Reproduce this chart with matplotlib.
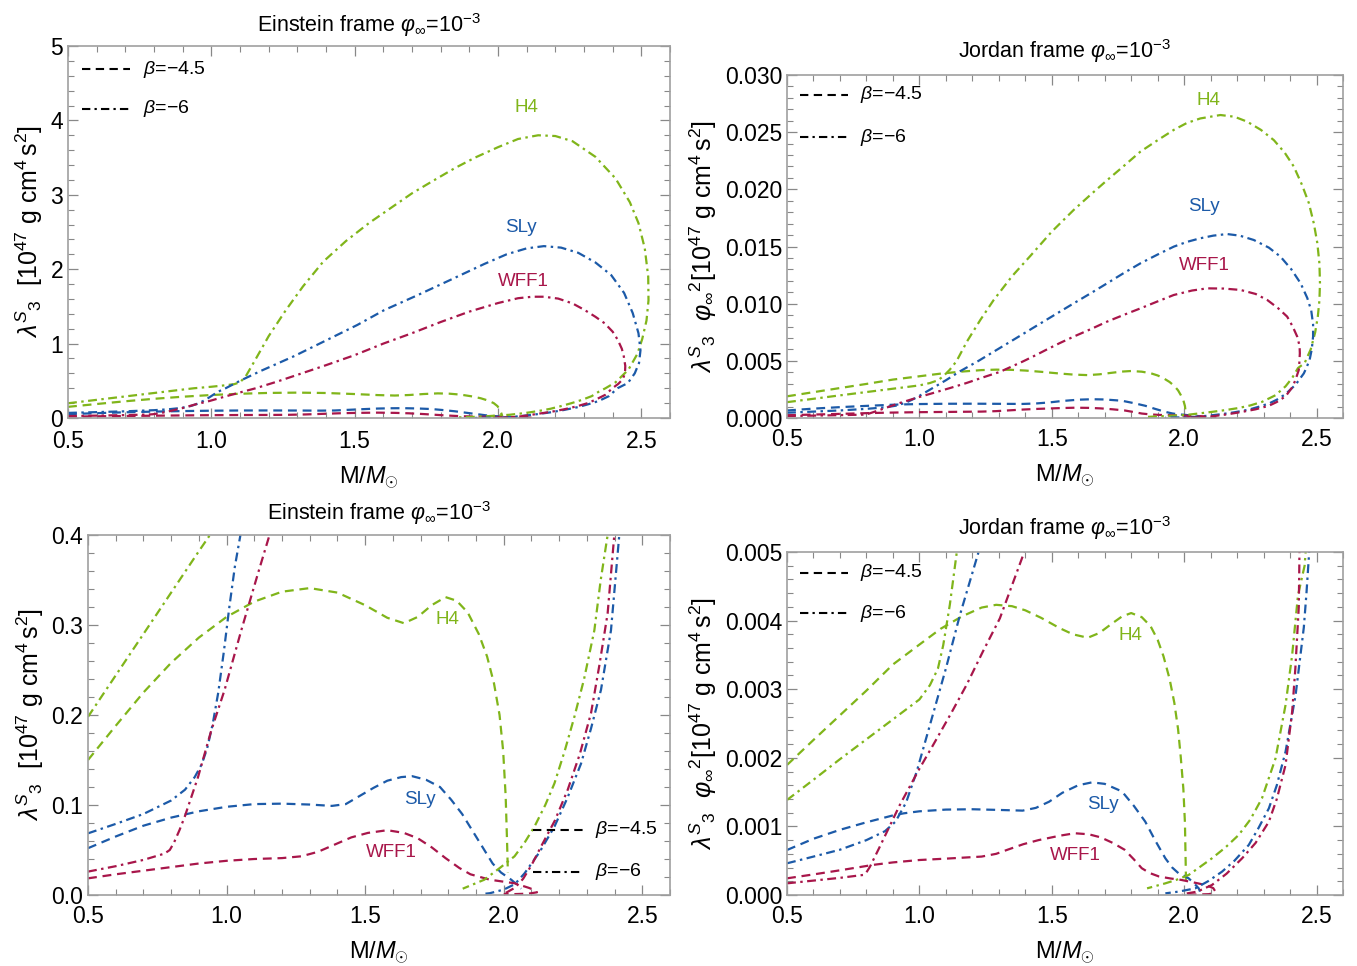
import matplotlib
matplotlib.use("Agg")
import matplotlib.pyplot as plt
from matplotlib.ticker import MultipleLocator, FormatStrFormatter
import numpy as np

plt.rcParams['font.family'] = ['Liberation Sans', 'DejaVu Sans']
plt.rcParams['mathtext.fontset'] = 'custom'
plt.rcParams['mathtext.rm'] = 'Liberation Sans'
plt.rcParams['mathtext.it'] = 'Liberation Sans:italic'
plt.rcParams['mathtext.bf'] = 'Liberation Sans:bold'

# ---------------- Einstein frame data (lambda in 1e47 g cm^4 s^2) ----------------
e_h4_b6_m = [0.5, 0.6, 0.7, 0.8, 0.9, 0.94, 1.0, 1.05, 1.08, 1.10, 1.12, 1.15, 1.2, 1.26, 1.32, 1.39, 1.47,
             1.55, 1.61, 1.70, 1.77, 1.85, 1.92, 2.0, 2.07, 2.14, 2.20, 2.26, 2.34, 2.41, 2.46, 2.49,
             2.512, 2.524, 2.525, 2.518, 2.503, 2.486, 2.455, 2.41, 2.375, 2.35, 2.327, 2.29, 2.255, 2.22,
             2.183, 2.15, 2.111, 2.075, 2.039, 1.99, 1.93, 1.852]
e_h4_b6_l = [0.198, 0.244, 0.290, 0.336, 0.382, 0.40, 0.42, 0.44, 0.455, 0.48, 0.56, 0.76, 1.10, 1.45, 1.77,
             2.10, 2.38, 2.62, 2.78, 3.02, 3.18, 3.36, 3.50, 3.64, 3.75, 3.80, 3.79, 3.72, 3.51, 3.22,
             2.90, 2.62, 2.28, 1.90, 1.58, 1.31, 1.06, 0.86, 0.65, 0.48, 0.40, 0.35, 0.294, 0.24, 0.198,
             0.16, 0.124, 0.10, 0.076, 0.058, 0.043, 0.031, 0.017, 0.007]

e_sly_b6_m = [0.5, 0.6, 0.7, 0.8, 0.85, 0.885, 0.91, 0.93, 0.95, 0.97, 0.99, 1.01, 1.03, 1.05, 1.10, 1.171,
              1.288, 1.404, 1.509, 1.603, 1.719, 1.836, 1.952, 2.03, 2.10, 2.16, 2.22, 2.28, 2.34, 2.395,
              2.44, 2.47, 2.49, 2.497, 2.492, 2.477, 2.453, 2.417, 2.387, 2.351, 2.315, 2.279, 2.23, 2.183,
              2.13, 2.075, 2.04, 2.0, 1.95, 1.92]
e_sly_b6_l = [0.0685, 0.079, 0.090, 0.105, 0.117, 0.131, 0.145, 0.163, 0.19, 0.225, 0.27, 0.32, 0.365, 0.40,
              0.50, 0.63, 0.83, 1.05, 1.25, 1.45, 1.65, 1.86, 2.07, 2.20, 2.28, 2.31, 2.29, 2.22, 2.09,
              1.92, 1.68, 1.41, 1.14, 0.91, 0.74, 0.60, 0.47, 0.40, 0.294, 0.228, 0.185, 0.146, 0.108,
              0.076, 0.048, 0.024, 0.012, 0.006, 0.002, 0.001]

e_wff1_b6_m = [0.5, 0.6, 0.7, 0.776, 0.795, 0.81, 0.83, 0.849, 0.897, 0.945, 0.993, 1.053, 1.113, 1.155,
               1.23, 1.3, 1.4, 1.5, 1.6, 1.7, 1.8, 1.9, 2.0, 2.07, 2.12, 2.16, 2.21, 2.26, 2.302, 2.34,
               2.372, 2.40, 2.418, 2.432, 2.439, 2.444, 2.443, 2.435, 2.42, 2.399, 2.375, 2.345, 2.315,
               2.275, 2.231, 2.185, 2.135, 2.10, 2.07, 2.04, 2.0]
e_wff1_b6_l = [0.026, 0.032, 0.039, 0.046, 0.05, 0.058, 0.072, 0.087, 0.131, 0.183, 0.228, 0.294, 0.357, 0.40,
               0.49, 0.58, 0.71, 0.845, 1.0, 1.14, 1.29, 1.43, 1.545, 1.61, 1.63, 1.63, 1.605, 1.54, 1.452,
               1.36, 1.273, 1.16, 1.049, 0.93, 0.825, 0.70, 0.60, 0.52, 0.46, 0.40, 0.313, 0.255, 0.202,
               0.157, 0.117, 0.083, 0.054, 0.033, 0.018, 0.008, 0.001]

e_h4_b45_m = [0.5, 0.6, 0.7, 0.8, 0.9, 1.0, 1.1, 1.2, 1.3, 1.4, 1.5, 1.58, 1.64, 1.69, 1.74, 1.79, 1.83, 1.87,
              1.91, 1.94, 1.965, 1.985, 1.998, 2.007, 2.012, 2.015]
e_h4_b45_l = [0.15, 0.188, 0.225, 0.258, 0.286, 0.309, 0.326, 0.337, 0.341, 0.336, 0.322, 0.308, 0.302, 0.309,
              0.322, 0.331, 0.327, 0.314, 0.29, 0.265, 0.235, 0.20, 0.16, 0.11, 0.06, 0.025]

e_sly_b45_m = [0.5, 0.6, 0.7, 0.8, 0.9, 1.0, 1.1, 1.2, 1.3, 1.38, 1.43, 1.48, 1.53, 1.58, 1.63, 1.67, 1.72,
               1.77, 1.81, 1.85, 1.89, 1.93, 1.96, 1.99, 2.027, 2.05, 2.063]
e_sly_b45_l = [0.052, 0.065, 0.077, 0.086, 0.093, 0.098, 0.101, 0.1015, 0.1005, 0.099, 0.101, 0.110, 0.119,
               0.127, 0.131, 0.132, 0.128, 0.120, 0.106, 0.09, 0.07, 0.050, 0.035, 0.025, 0.017, 0.011, 0.007]

e_wff1_b45_m = [0.5, 0.6, 0.7, 0.8, 0.9, 1.0, 1.1, 1.2, 1.27, 1.33, 1.39, 1.45, 1.51, 1.58, 1.64, 1.69, 1.74,
                1.79, 1.84, 1.88, 1.95, 2.04, 2.09, 2.115, 2.12, 2.09, 2.04, 2.0]
e_wff1_b45_l = [0.0185, 0.023, 0.027, 0.031, 0.035, 0.038, 0.040, 0.041, 0.043, 0.048, 0.056, 0.064, 0.069,
                0.072, 0.069, 0.063, 0.053, 0.041, 0.030, 0.023, 0.017, 0.013, 0.008, 0.005, 0.003, 0.0015,
                0.001, 0.001]

# ---------------- Jordan frame data (lambda * phi^2, in units of 1e-3) ----------------
J_UNIT = 1e-3
j_h4_b6_m = [0.5, 0.6, 0.7, 0.8, 0.9, 1.0, 1.04, 1.07, 1.09, 1.115, 1.14, 1.18, 1.23, 1.28, 1.35, 1.42, 1.5,
             1.583, 1.65, 1.709, 1.77, 1.835, 1.9, 1.961, 2.01, 2.061, 2.137, 2.19, 2.238, 2.29, 2.339,
             2.38, 2.414, 2.445, 2.471, 2.49, 2.503, 2.511, 2.513, 2.511, 2.505, 2.495, 2.478, 2.455, 2.43,
             2.408, 2.383, 2.345, 2.294, 2.25, 2.206, 2.155, 2.105, 2.06, 2.017, 1.97, 1.929, 1.86]
j_h4_b6_l = [1.385, 1.68, 1.98, 2.27, 2.56, 2.85, 3.06, 3.3, 3.64, 4.23, 4.96, 6.7, 8.57, 10.3, 12.4, 14.2,
             16.3, 18.2, 19.6, 20.8, 22.0, 23.3, 24.3, 25.2, 25.8, 26.2, 26.5, 26.35, 25.92, 25.2, 24.3,
             23.2, 22.0, 20.4, 18.8, 17.0, 15.3, 13.5, 11.8, 10.3, 8.9, 7.5, 6.0, 4.8, 4.37, 3.5, 2.77, 1.99,
             1.41, 1.1, 0.875, 0.69, 0.535, 0.41, 0.292, 0.22, 0.17, 0.097]

j_sly_b6_m = [0.5, 0.6, 0.7, 0.8, 0.87, 0.91, 0.95, 0.99, 1.04, 1.10, 1.153, 1.222, 1.29, 1.356, 1.42, 1.5,
              1.583, 1.65, 1.709, 1.77, 1.835, 1.9, 1.961, 2.01, 2.061, 2.11, 2.162, 2.21, 2.263, 2.32, 2.364,
              2.405, 2.44, 2.465, 2.48, 2.487, 2.487, 2.482, 2.474, 2.462, 2.452, 2.421, 2.383, 2.35, 2.32,
              2.28, 2.244, 2.19, 2.143, 2.09, 2.042, 1.98, 1.929]
j_sly_b6_l = [0.462, 0.56, 0.66, 0.80, 0.93, 1.07, 1.35, 1.80, 2.48, 3.30, 4.08, 4.98, 5.93, 6.85, 7.75, 8.87,
              10.03, 10.95, 11.78, 12.65, 13.53, 14.3, 14.99, 15.4, 15.72, 15.95, 16.09, 15.95, 15.57, 14.9,
              14.11, 13.0, 11.78, 10.5, 9.4, 8.2, 7.12, 6.0, 5.1, 4.4, 3.9, 2.915, 2.089, 1.6, 1.263, 0.97,
              0.729, 0.5, 0.34, 0.2, 0.097, 0.05, 0.024]

j_wff1_b6_m = [0.5, 0.6, 0.7, 0.787, 0.80, 0.813, 0.85, 0.926, 1.0, 1.052, 1.12, 1.178, 1.24, 1.304, 1.392,
               1.44, 1.482, 1.53, 1.583, 1.65, 1.709, 1.77, 1.835, 1.9, 1.961, 2.03, 2.087, 2.15, 2.213, 2.27,
               2.314, 2.355, 2.389, 2.41, 2.427, 2.436, 2.437, 2.435, 2.433, 2.42, 2.408, 2.383, 2.35, 2.32,
               2.27, 2.219, 2.16, 2.105, 2.05, 1.992]
j_wff1_b6_l = [0.17, 0.21, 0.25, 0.292, 0.33, 0.41, 0.7, 1.312, 1.84, 2.187, 2.65, 3.061, 3.55, 4.033, 4.956,
               5.5, 6.0, 6.55, 7.12, 7.8, 8.43, 9.0, 9.59, 10.2, 10.76, 11.15, 11.34, 11.32, 11.2, 10.85,
               10.32, 9.6, 8.87, 8.0, 7.12, 6.3, 5.66, 4.8, 4.2, 3.3, 2.672, 1.895, 1.4, 1.069, 0.76, 0.535,
               0.31, 0.146, 0.05, 0.01]

j_h4_b45_m = [0.5, 0.6, 0.7, 0.8, 0.9, 1.0, 1.08, 1.16, 1.235, 1.29, 1.35, 1.40, 1.46, 1.53, 1.58, 1.636,
              1.68, 1.725, 1.765, 1.80, 1.84, 1.873, 1.90, 1.922, 1.945, 1.963, 1.977, 1.987, 1.997, 2.003,
              2.007]
j_h4_b45_l = [1.895, 2.26, 2.62, 2.98, 3.36, 3.65, 3.88, 4.06, 4.19, 4.23, 4.21, 4.15, 4.04, 3.89, 3.80, 3.75,
              3.82, 3.95, 4.06, 4.11, 4.05, 3.92, 3.72, 3.48, 3.15, 2.80, 2.42, 2.02, 1.55, 1.05, 0.22]

j_sly_b45_m = [0.5, 0.6, 0.7, 0.8, 0.9, 0.94, 1.0, 1.1, 1.2, 1.3, 1.39, 1.44, 1.49, 1.54, 1.6, 1.652, 1.70,
               1.765, 1.81, 1.853, 1.89, 1.929, 1.955, 1.979, 2.0, 2.017, 2.04, 2.055, 2.06]
j_sly_b45_l = [0.656, 0.82, 0.95, 1.06, 1.16, 1.19, 1.22, 1.245, 1.25, 1.24, 1.23, 1.27, 1.36, 1.49, 1.60,
               1.642, 1.62, 1.51, 1.30, 1.07, 0.80, 0.535, 0.40, 0.316, 0.28, 0.243, 0.16, 0.097, 0.05]

j_wff1_b45_m = [0.5, 0.6, 0.7, 0.827, 0.9, 1.0, 1.1, 1.235, 1.29, 1.333, 1.392, 1.45, 1.531, 1.587, 1.64,
                1.685, 1.73, 1.775, 1.81, 1.84, 1.87, 1.905, 1.95, 1.989, 2.052, 2.085, 2.11, 2.118, 2.11,
                2.093, 2.05, 2.0]
j_wff1_b45_l = [0.243, 0.30, 0.36, 0.44, 0.475, 0.51, 0.53, 0.56, 0.60, 0.66, 0.74, 0.80, 0.865, 0.90, 0.885,
                0.84, 0.76, 0.66, 0.52, 0.39, 0.32, 0.27, 0.24, 0.22, 0.17, 0.14, 0.10, 0.05, 0.025, 0.012,
                0.007, 0.005]

eos_names = ["H4", "SLy", "WFF1"]
beta_labels = [r"$\beta$=$-$4.5", r"$\beta$=$-$6"]
colors = {"H4": "#80b51a", "SLy": "#1c5aa8", "WFF1": "#a8164a"}

DASH = (0, (4.0, 2.6))
DASHDOT = (0, (4.0, 2.0, 1.1, 2.0))

einstein = {
    ("H4", "b45"): (e_h4_b45_m, e_h4_b45_l), ("SLy", "b45"): (e_sly_b45_m, e_sly_b45_l),
    ("WFF1", "b45"): (e_wff1_b45_m, e_wff1_b45_l),
    ("H4", "b6"): (e_h4_b6_m, e_h4_b6_l), ("SLy", "b6"): (e_sly_b6_m, e_sly_b6_l),
    ("WFF1", "b6"): (e_wff1_b6_m, e_wff1_b6_l),
}
jordan = {
    ("H4", "b45"): (j_h4_b45_m, j_h4_b45_l), ("SLy", "b45"): (j_sly_b45_m, j_sly_b45_l),
    ("WFF1", "b45"): (j_wff1_b45_m, j_wff1_b45_l),
    ("H4", "b6"): (j_h4_b6_m, j_h4_b6_l), ("SLy", "b6"): (j_sly_b6_m, j_sly_b6_l),
    ("WFF1", "b6"): (j_wff1_b6_m, j_wff1_b6_l),
}

fig = plt.figure(figsize=(13.57, 9.66), dpi=100)

W, H = 1357.0, 966.0
def rect(l, r, t, b):
    return [l / W, 1 - b / H, (r - l) / W, (b - t) / H]

ax_tl = fig.add_axes(rect(68, 670, 46, 418))
ax_tr = fig.add_axes(rect(787, 1343, 75, 418))
ax_bl = fig.add_axes(rect(88, 670, 535, 895))
ax_br = fig.add_axes(rect(787, 1343, 552, 895))

title_e = r"Einstein frame $\varphi_{\infty}$=10$^{-3}$"
title_j = r"Jordan frame $\varphi_{\infty}$=10$^{-3}$"
ylab_e = r"$\lambda^{S}{}_{3}\ \ [10^{47}\ \mathrm{g\ cm^{4}\,s^{2}}]$"
ylab_j = r"$\lambda^{S}{}_{3}\ \ \varphi_{\infty}{}^{2}[10^{47}\ \mathrm{g\ cm^{4}\,s^{2}}]$"
xlab = r"M/$M_{\odot}$"

def draw(ax, data, scale, ylim, ymaj, ymin, yfmt, title, ylab, labels, legend_pos, tpad, xpad):
    for (eos, b), (m, l) in data.items():
        ls = DASH if b == "b45" else DASHDOT
        ax.plot(m, np.asarray(l) * scale, color=colors[eos], lw=1.6, ls=ls,
                solid_capstyle="butt", dash_capstyle="butt")
    ax.set_xlim(0.5, 2.6)
    ax.set_ylim(*ylim)
    ax.xaxis.set_major_locator(MultipleLocator(0.5))
    ax.xaxis.set_minor_locator(MultipleLocator(0.1))
    ax.yaxis.set_major_locator(MultipleLocator(ymaj))
    ax.yaxis.set_minor_locator(MultipleLocator(ymin))
    ax.xaxis.set_major_formatter(FormatStrFormatter("%.1f"))
    ax.yaxis.set_major_formatter(FormatStrFormatter(yfmt))
    ax.tick_params(which="both", direction="in", top=True, right=True, color="#888888",
                   labelsize=16.5)
    ax.tick_params(axis="x", which="major", pad=xpad)
    ax.tick_params(axis="y", which="major", pad=3.5)
    ax.tick_params(which="major", length=7, width=0.9)
    ax.tick_params(which="minor", length=4, width=0.8)
    for s in ax.spines.values():
        s.set_color("#a0a0a0")
        s.set_linewidth(1.2)
    ax.set_title(title, fontsize=15.5, pad=tpad)
    ax.set_ylabel(ylab, fontsize=18, labelpad=4)
    ax.set_xlabel(xlab, fontsize=17, labelpad=8)
    for eos, (x, y) in labels.items():
        ax.text(x, y, eos, color=colors[eos], fontsize=13.5, ha="center", va="center")
    (x0, x1, xt, y0, y1) = legend_pos
    for yy, ls, lab in ((y0, DASH, beta_labels[0]), (y1, DASHDOT, beta_labels[1])):
        ax.plot([x0, x1], [yy, yy], transform=ax.transAxes, color="black", lw=1.5, ls=ls)
        ax.text(xt, yy, lab, transform=ax.transAxes, fontsize=14, va="center", ha="left")

draw(ax_tl, einstein, 1.0, (0, 5), 1, 0.2, "%d", title_e, ylab_e,
     {"H4": (2.098, 4.18), "SLy": (2.08, 2.56), "WFF1": (2.087, 1.83)},
     (0.023, 0.103, 0.124, 0.938, 0.831), 10, 8.5)
draw(ax_tr, jordan, J_UNIT, (0, 0.030), 0.005, 0.001, "%.3f", title_j, ylab_j,
     {"H4": (2.092, 0.0278), "SLy": (2.073, 0.01846), "WFF1": (2.077, 0.01338)},
     (0.023, 0.11, 0.131, 0.942, 0.819), 12, 7)
draw(ax_bl, einstein, 1.0, (0, 0.4), 0.1, 0.02, "%.1f", title_e, ylab_e,
     {"H4": (1.797, 0.3056), "SLy": (1.696, 0.1056), "WFF1": (1.595, 0.0467)},
     (0.765, 0.851, 0.871, 0.181, 0.064), 11, 7)
draw(ax_br, jordan, J_UNIT, (0, 0.005), 0.001, 0.0002, "%.3f", title_j, ylab_j,
     {"H4": (1.797, 0.003776), "SLy": (1.695, 0.001312), "WFF1": (1.589, 0.000569)},
     (0.023, 0.11, 0.131, 0.939, 0.822), 12, 7)

fig.savefig("out.png", dpi=100)
